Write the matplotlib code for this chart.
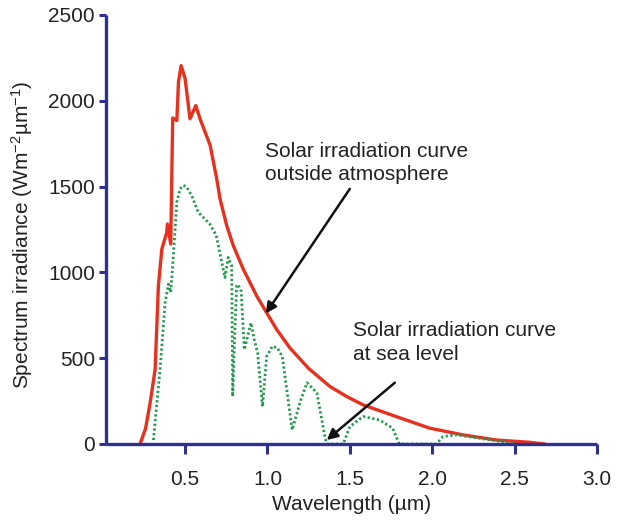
import matplotlib
matplotlib.use("Agg")
import matplotlib.pyplot as plt

plt.rcParams['font.family'] = ['Liberation Sans', 'DejaVu Sans']
plt.rcParams['mathtext.fontset'] = 'custom'
plt.rcParams['mathtext.rm'] = 'Liberation Sans'
plt.rcParams['mathtext.it'] = 'Liberation Sans:italic'

# Extraterrestrial spectrum (um, W m-2 um-1)
space_wl = [0.227, 0.26, 0.288, 0.318, 0.338, 0.359, 0.389, 0.393, 0.413, 0.42,
            0.425, 0.45, 0.46, 0.476, 0.50, 0.53, 0.565, 0.59, 0.652, 0.692,
            0.712, 0.753, 0.793, 0.853, 0.935, 0.995, 1.056, 1.136, 1.25, 1.379,
            1.48, 1.58, 1.78, 1.985, 2.187, 2.39, 2.59, 2.68]
space_irr = [0, 90, 240, 433, 921, 1136, 1234, 1282, 1165, 1604,
             1900, 1885, 2110, 2205, 2130, 1895, 1972, 1897, 1741, 1546,
             1429, 1272, 1155, 1019, 862, 765, 667, 560, 440, 335,
             277, 228, 160, 92, 53, 23, 10, 0]

# Spectrum at sea level
sea_wl = [0.308, 0.33, 0.348, 0.379, 0.399, 0.413, 0.429, 0.45, 0.47, 0.49,
          0.51, 0.54, 0.58, 0.65, 0.69, 0.71, 0.742, 0.762, 0.783, 0.789,
          0.80, 0.813, 0.82, 0.84, 0.86, 0.90, 0.92, 0.94, 0.97, 0.995,
          1.03, 1.06, 1.09, 1.15, 1.20, 1.24, 1.30, 1.35, 1.36, 1.40,
          1.46, 1.50, 1.58, 1.68, 1.76, 1.80, 1.90, 2.025, 2.065, 2.147,
          2.29, 2.43, 2.5]
sea_irr = [23, 250, 433, 825, 931, 884, 1097, 1409, 1487, 1507,
           1497, 1448, 1350, 1282, 1214, 1117, 970, 1087, 1038, 277,
           600, 921, 930, 892, 550, 706, 608, 532, 218, 510,
           570, 560, 510, 82, 250, 357, 298, 35, 0, 0,
           0, 101, 160, 140, 92, 0, 0, 0, 43, 53,
           33, 13, 0]

x_ticks = [0.5, 1.0, 1.5, 2.0, 2.5, 3.0]
y_ticks = [0, 500, 1000, 1500, 2000, 2500]

axis_blue = '#2e3192'
ink = '#222222'

fig = plt.figure(figsize=(6.18, 5.2), dpi=100)
ax = fig.add_axes([0.1715, 0.1462, 0.7945, 0.825])

ax.plot(space_wl, space_irr, color='#e8301e', lw=2.4)
ax.plot(sea_wl, sea_irr, color='#1f9a4c', lw=2.0, linestyle=(0, (0.8, 0.9)))

ax.set_xlim(0.02, 3.0)
ax.set_ylim(0, 2500)
ax.set_xticks(x_ticks)
ax.set_xticklabels(['%.1f' % t for t in x_ticks])
ax.set_yticks(y_ticks)

for side in ['top', 'right']:
    ax.spines[side].set_visible(False)
for side in ['left', 'bottom']:
    ax.spines[side].set_color(axis_blue)
    ax.spines[side].set_linewidth(2.4)
    ax.spines[side].set_capstyle('butt')

ax.tick_params(axis='x', colors=axis_blue, width=2.2, length=7, pad=12,
               labelcolor=ink, labelsize=15)
ax.tick_params(axis='y', colors=axis_blue, width=2.2, length=5, pad=3,
               labelcolor=ink, labelsize=15)

ax.set_xlabel('Wavelength (µm)', fontsize=15, color=ink)
ax.xaxis.set_label_coords(0.5, -0.12)
ax.set_ylabel('Spectrum irradiance (Wm$^{-2}$µm$^{-1}$)', fontsize=15, color=ink)
ax.yaxis.set_label_coords(-0.145, 0.487)

ax.text(0.985, 1760, 'Solar irradiation curve\noutside atmosphere', fontsize=15,
        color=ink, va='top', ha='left', linespacing=1.3)
ax.text(1.518, 715, 'Solar irradiation curve\nat sea level', fontsize=15,
        color=ink, va='top', ha='left', linespacing=1.3)

arrow = dict(arrowstyle='-|>', color='#111111', lw=1.8, mutation_scale=16,
             shrinkA=0, shrinkB=0)
ax.annotate('', xy=(0.99, 760), xytext=(1.5, 1487), arrowprops=arrow)
ax.annotate('', xy=(1.36, 23), xytext=(1.773, 357), arrowprops=arrow)

fig.savefig('out.png', dpi=100)
